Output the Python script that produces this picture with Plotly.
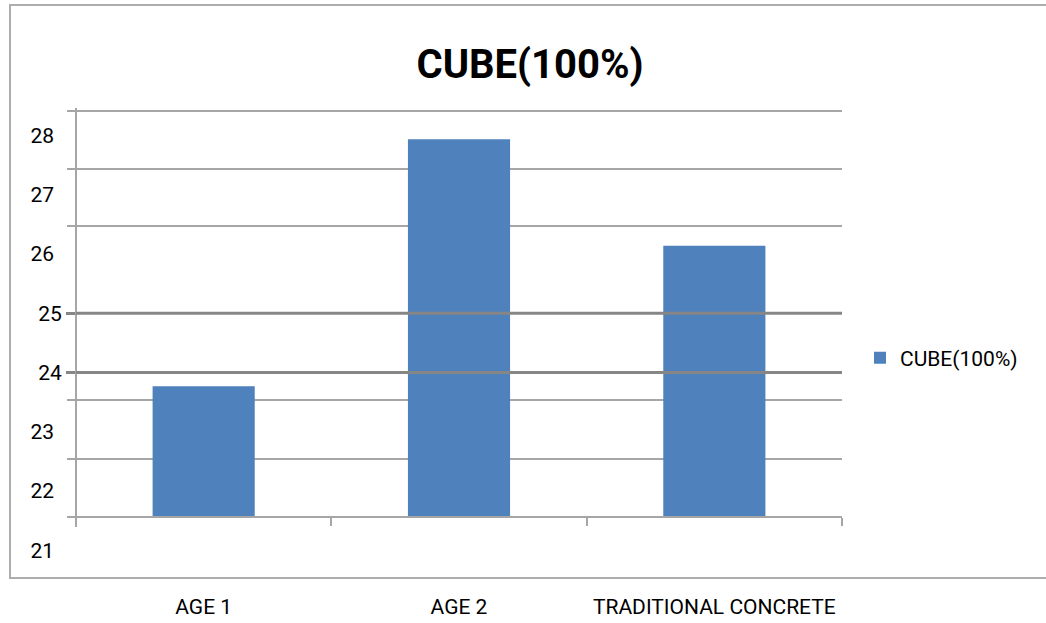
import plotly.graph_objects as go

# Compressive strength of cube specimens
categories = ["AGE 1", "AGE 2", "TRADITIONAL CONCRETE"]
strength = [23.77, 27.94, 26.14]
series_name = "CUBE(100%)"

# Value-axis labels
label_vals = [28, 27, 26, 23, 22, 21]
bold_label_vals = [25, 24]

# Figure geometry (pixels)
W, H = 1046, 623
L, R, T, B = 76, 842, 100, 578          # plot area edges
Y_RANGE = [20.530, 28.602]              # value at bottom / top of plot area
BASE = 21.56                            # value where the category axis sits

light_grid = [28.416, 27.437, 26.474, 23.536, 22.539, 21.560]


def px_x(px):
    return (px - L) / (R - L)


def px_y(py):
    return (B - py) / (B - T)


def val_of_px(py):
    return Y_RANGE[1] - (py - T) / (B - T) * (Y_RANGE[1] - Y_RANGE[0])


FONT = "Roboto"
GRID = "#a6a6a6"
DARK = "#868686"
BAR = "#4f81bd"

fig = go.Figure()
fig.add_trace(go.Bar(
    x=categories,
    y=[v - BASE for v in strength],
    base=BASE,
    name=series_name,
    marker=dict(color=BAR, line=dict(width=0)),
    width=0.4,
    showlegend=True,
))
# placeholder traces so the two label axes get drawn
for ax in ("y2", "y3"):
    fig.add_trace(go.Scatter(x=[categories[0]], y=[None], yaxis=ax,
                             mode="markers", showlegend=False,
                             hoverinfo="skip"))

shapes = [
    # outer chart border
    dict(type="rect", xref="paper", yref="paper",
         x0=px_x(10), x1=px_x(1060), y0=px_y(578), y1=px_y(5),
         line=dict(color="#adadad", width=2), fillcolor="rgba(0,0,0,0)",
         layer="below"),
    # value axis line
    dict(type="line", xref="paper", yref="y",
         x0=0, x1=0, y0=val_of_px(527), y1=val_of_px(108),
         line=dict(color=GRID, width=2), layer="above"),
]
# emphasised gridlines drawn over the bars
for v in bold_label_vals:
    shapes.append(dict(type="line", xref="paper", yref="y",
                       x0=0, x1=1, y0=v, y1=v,
                       line=dict(color=DARK, width=3), layer="above"))

fig.update_layout(
    template="none",
    width=W, height=H, autosize=False,
    margin=dict(l=L, r=W - R, t=T, b=H - B, pad=0, autoexpand=False),
    paper_bgcolor="white", plot_bgcolor="white",
    font=dict(family=FONT, size=21, color="#000000"),
    title=dict(text="<b>CUBE(100%)</b>", x=530 / W, y=1 - 64 / H,
               xanchor="center", yanchor="middle",
               font=dict(family=FONT, size=40, color="#000000")),
    bargap=0.6,
    showlegend=True,
    legend=dict(x=px_x(860), y=px_y(358), xanchor="left", yanchor="middle",
                font=dict(family=FONT, size=21, color="#000000"),
                bgcolor="rgba(0,0,0,0)", itemwidth=30),
    xaxis=dict(
        type="category", range=[-0.5, 2.5],
        anchor="free", position=px_y(517),
        showline=True, linecolor=GRID, linewidth=2,
        ticks="outside", tickson="boundaries", ticklen=8,
        tickcolor=GRID, tickwidth=2,
        showgrid=False, zeroline=False, automargin=False,
        ticklabelstandoff=71,
        tickfont=dict(family=FONT, size=21, color="#000000"),
        fixedrange=True,
    ),
    yaxis=dict(
        range=Y_RANGE, tickmode="array", tickvals=light_grid,
        showticklabels=False,
        showgrid=True, gridcolor=GRID, gridwidth=2,
        ticks="outside", ticklen=8, tickcolor=GRID, tickwidth=2,
        showline=False, zeroline=False, fixedrange=True, automargin=False,
    ),
    yaxis2=dict(
        overlaying="y", anchor="x", side="left",
        range=Y_RANGE, tickmode="array", tickvals=label_vals,
        ticktext=[str(v) for v in label_vals],
        showgrid=False, zeroline=False, showline=False, ticks="",
        ticklabelstandoff=21, automargin=False,
        tickfont=dict(family=FONT, size=21, color="#000000"),
        fixedrange=True,
    ),
    yaxis3=dict(
        overlaying="y", anchor="x", side="left",
        range=Y_RANGE, tickmode="array", tickvals=bold_label_vals,
        ticktext=[str(v) for v in bold_label_vals],
        showgrid=False, zeroline=False, showline=False,
        ticks="outside", ticklen=9, tickcolor=DARK, tickwidth=3,
        automargin=False,
        tickfont=dict(family=FONT, size=21, color="#000000"),
        fixedrange=True,
    ),
    shapes=shapes,
)

fig.write_html("out.html")
